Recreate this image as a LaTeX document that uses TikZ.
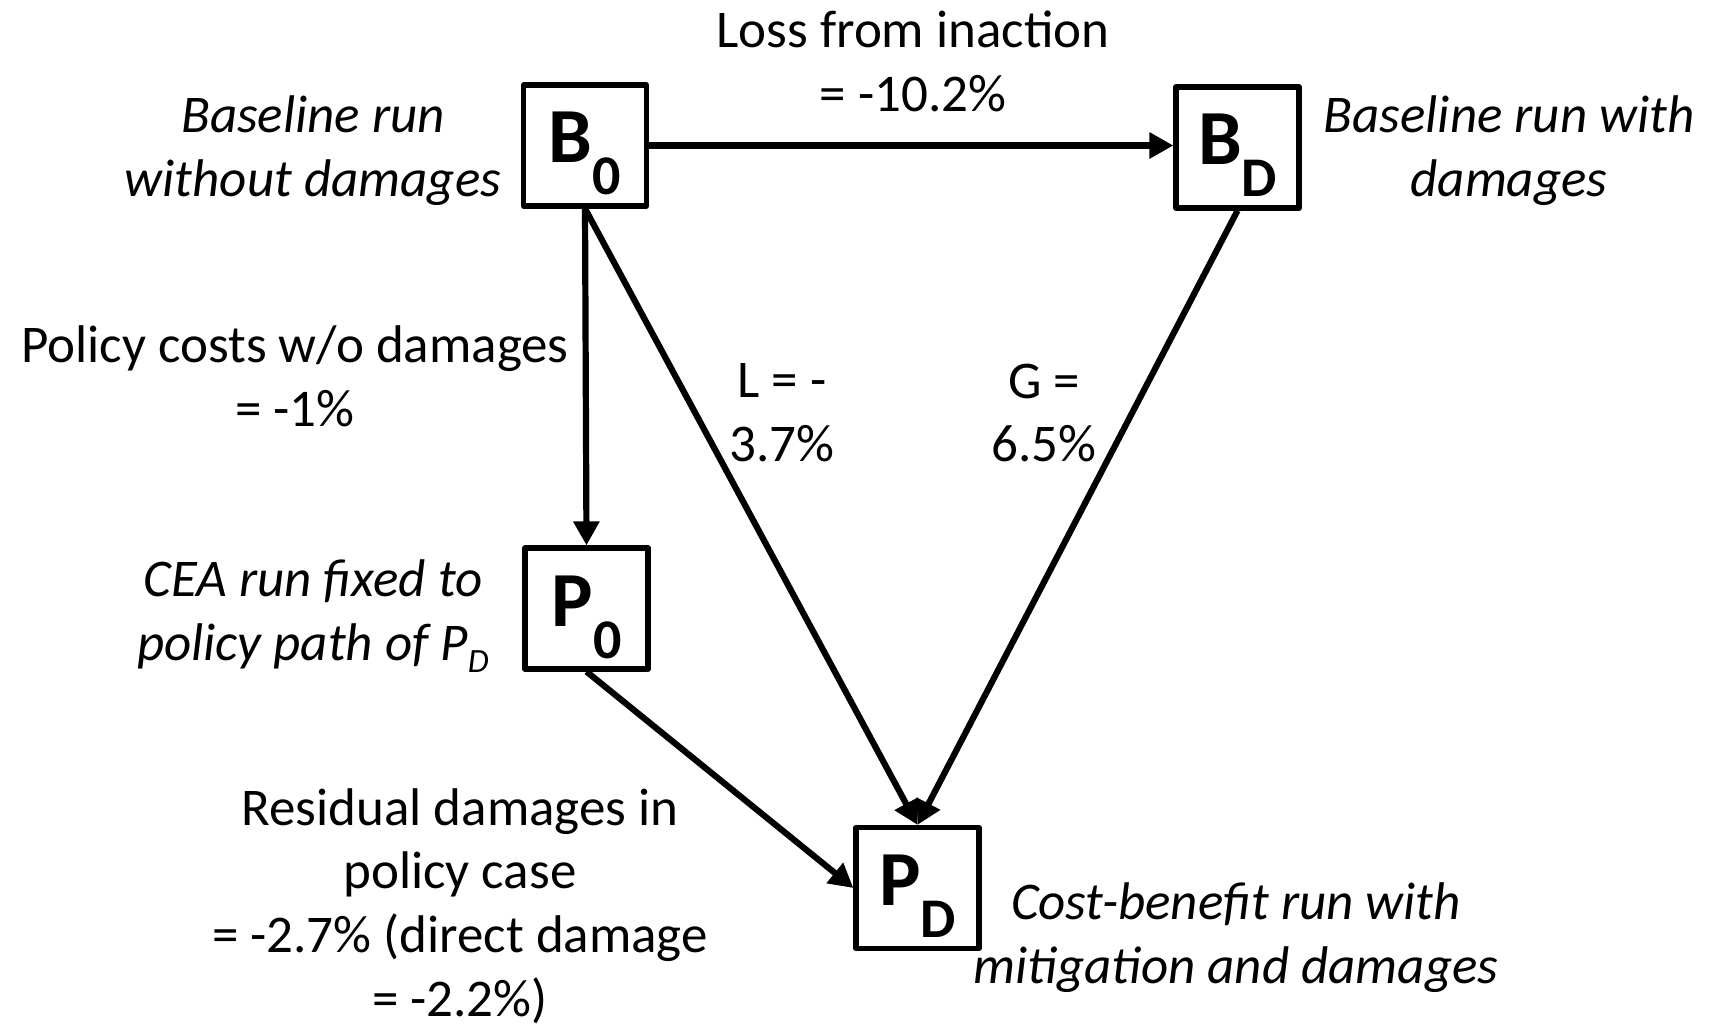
\documentclass[tikz,border=0pt]{standalone}
\usepackage{fontspec}
\setmainfont{Carlito}
\usetikzlibrary{arrows.meta}
\newcommand\boxlab[2]{#1\raisebox{-16pt}{\fontsize{28pt}{28pt}\selectfont #2}}
\newcommand\smallsub[1]{\raisebox{-0.22em}{\fontsize{17pt}{17pt}\selectfont #1}}
\begin{document}
\begin{tikzpicture}[x=0.5pt,y=-0.5pt,
  box/.style={draw, line width=2.6pt, line join=round, minimum width=61.5pt,
    minimum height=60.5pt, inner sep=0pt, text height=17.5pt, text depth=0pt,
    font=\bfseries\fontsize{39pt}{39pt}\selectfont},
  lbl/.style={align=center, inner sep=0pt, font=\fontsize{26.5pt}{31.9pt}\selectfont},
  ilbl/.style={align=center, inner sep=0pt, font=\itshape\fontsize{26.5pt}{31.9pt}\selectfont},
  arr/.style={line width=3.1pt, -{Triangle[length=12pt,width=12.5pt]}}
]
\useasboundingbox (0,0) rectangle (1722,1027);
\fill[white] (0,0) rectangle (1722,1027);

\node[box] (B0) at (585,145.5) {\boxlab{B}{0}};
\node[box] (BD) at (1237.5,147.5) {\boxlab{B}{D}};
\node[box] (P0) at (586.5,608.5) {\boxlab{P}{0}};
\node[box] (PD) at (917.5,888) {\boxlab{P}{D}};

\draw[arr] (B0.east) -- (B0.east -| BD.west);
\draw[arr] (B0.south) -- (P0.north);
\draw[arr] (B0.south) -- (PD.north);
\draw[arr] (BD.south) -- (PD.north);
\draw[arr] (P0.south) -- (PD.west);

\node[lbl] (loss) at (913,61.5) {Loss from inaction\\= -10.2\%};
\node[ilbl] (b0t) at (313,150.5) {Baseline run\\without damages};
\node[ilbl] (bdt) at (1509,150.5) {Baseline run with\\damages};
\node[lbl] (pc) at (295,376) {Policy costs w/o damages\\= -1\%};
\node[lbl] (lt) at (782,413) {L = -\\3.7\%};
\node[lbl] (gt) at (1044,413) {G =\\6.5\%};
\node[ilbl] (p0t) at (313,616) {CEA run fixed to\\policy path of P\smallsub{D}};
\node[lbl] (rd) at (460,906) {Residual damages in\\policy case\\= -2.7\% (direct damage\\= -2.2\%)};
\node[ilbl] (pdt) at (1236,938) {Cost-benefit run with\\mitigation and damages};
\end{tikzpicture}
\end{document}
